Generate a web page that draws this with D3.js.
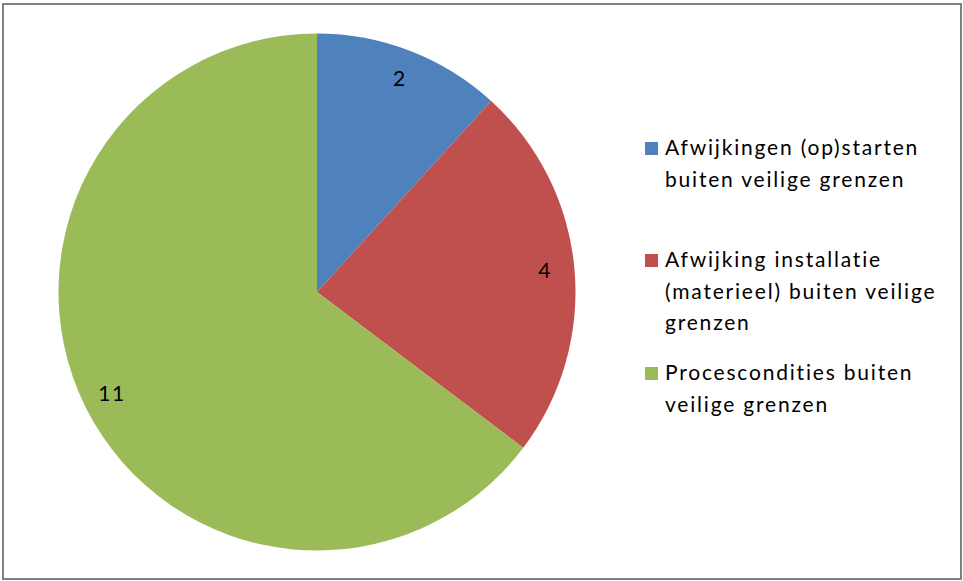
<!DOCTYPE html>
<html>
<head>
<meta charset="utf-8">
<script src="https://cdn.jsdelivr.net/npm/d3@7"></script>
<style>
  html, body { margin: 0; padding: 0; background: #fff; }
  svg { display: block; }
</style>
</head>
<body>
<svg id="chart" width="963" height="581"></svg>
<script>
const categories = [
  ["Afwijkingen (op)starten", "buiten veilige grenzen"],
  ["Afwijking installatie", "(materieel) buiten veilige", "grenzen"],
  ["Procescondities buiten", "veilige grenzen"]
];
const values = [2, 4, 11];
const colors = ["#4F81BD", "#C0504D", "#9BBB59"];
const legendTops = [155, 267, 380];

const svg = d3.select("#chart");
const W = 963, H = 581;
const font = "Lato, 'Open Sans', sans-serif";

// outer border
svg.append("rect")
  .attr("x", 3).attr("y", 4).attr("width", W - 5).attr("height", H - 6)
  .attr("fill", "#fff").attr("stroke", "#808080").attr("stroke-width", 2);

const cx = 317, cy = 292, r = 258.5, labelR = 229;

const pie = d3.pie().sort(null).value(d => d);
const arcs = pie(values);
const arc = d3.arc().innerRadius(0).outerRadius(r);
const labelArc = d3.arc().innerRadius(labelR).outerRadius(labelR);

const g = svg.append("g").attr("transform", `translate(${cx},${cy})`);
g.selectAll("path.slice").data(arcs).enter().append("path")
  .attr("class", "slice")
  .attr("d", arc)
  .attr("fill", (d, i) => colors[i])
  .attr("stroke", "none");

g.selectAll("text.lbl").data(arcs).enter().append("text")
  .attr("class", "lbl")
  .attr("x", d => labelArc.centroid(d)[0])
  .attr("y", d => labelArc.centroid(d)[1])
  .attr("dy", "0.35em")
  .attr("text-anchor", "middle")
  .attr("font-family", font)
  .attr("font-size", 21)
  .attr("letter-spacing", 1.5)
  .attr("fill", "#000")
  .text(d => d.data);

// legend
const lg = svg.append("g");
categories.forEach((lines, i) => {
  const base = legendTops[i];
  lg.append("rect")
    .attr("x", 645).attr("y", base - 13)
    .attr("width", 13).attr("height", 13)
    .attr("fill", colors[i]);
  const t = lg.append("text")
    .attr("font-family", font)
    .attr("font-size", 21)
    .attr("letter-spacing", 1.8)
    .attr("fill", "#000");
  lines.forEach((ln, j) => {
    t.append("tspan").attr("x", 665).attr("y", base + j * 31.5).text(ln);
  });
});
</script>
</body>
</html>
